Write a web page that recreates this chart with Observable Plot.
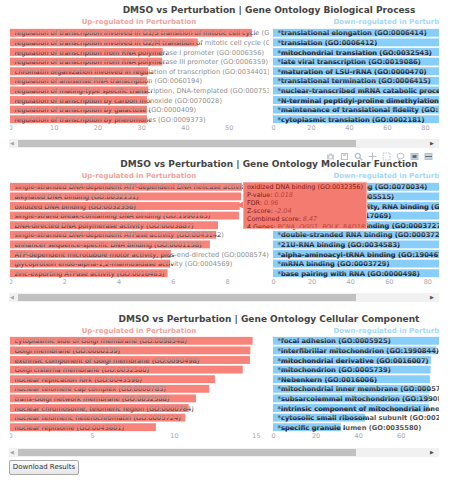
<!DOCTYPE html>
<html><head><meta charset="utf-8">
<script src="https://cdn.jsdelivr.net/npm/d3@7"></script>
<script src="https://cdn.jsdelivr.net/npm/@observablehq/plot@0.6"></script>
<style>
body{margin:0;background:#fff;font-family:"DejaVu Sans",Verdana,sans-serif;width:458px;height:483px;position:relative;overflow:hidden}
.viewport{position:absolute;left:10px;width:429px;overflow:hidden}
.content{position:relative;width:518px;height:140px}
.title{position:absolute;left:0;width:518px;text-align:center;font-weight:bold;font-size:9px;line-height:10px;color:#444;white-space:nowrap}
.sub{position:absolute;text-align:center;font-weight:bold;font-size:7px;line-height:8px;white-space:nowrap}
.track{position:absolute;left:9px;width:430px;height:9px;background:#f1f1f1}
.thumb{position:absolute;left:9px;width:338px;top:1px;height:7px;background:#c1c1c1}
.arrL{position:absolute;left:1px;top:0;font-size:5px;line-height:9px;color:#a3a3a3}
.arrR{position:absolute;left:421px;top:0;font-size:5px;line-height:9px;color:#505050}
.btn{position:absolute;left:9px;top:460px;width:68px;height:13px;border:1px solid #a9a9a9;border-radius:2px;background:linear-gradient(#fbfbfb,#e6e6e6);font-size:7px;line-height:13px;text-align:center;color:#333}
.tip{position:absolute;left:243px;top:182px;width:124px;height:47px;background:#f47b6f;border:1px solid #f9a79f;font-size:6.4px;line-height:8px;color:#7c1d16;padding:0 0 0 3px;box-sizing:border-box;white-space:nowrap;overflow:hidden}
.tip i{color:#b8453a}
.notch{position:absolute;left:237px;top:201px;width:0;height:0;border-top:4px solid transparent;border-bottom:4px solid transparent;border-right:7px solid #f47b6f}
.modebar{position:absolute;left:326px;top:152px;height:9px;display:flex;gap:5px}
</style></head>
<body>
<script>
// ---------- DATA ----------
const bpUpTerms = [
 "regulation of transcription involved in G1/S transition of mitotic cell cycle (GO:0000083)",
 "regulation of transcription involved in G2/M transition of mitotic cell cycle (GO:0000117)",
 "regulation of transcription from RNA polymerase I promoter (GO:0006356)",
 "regulation of transcription from RNA polymerase III promoter (GO:0006359)",
 "chromatin organization involved in regulation of transcription (GO:0034401)",
 "regulation of antisense RNA transcription (GO:0060194)",
 "regulation of mating-type specific transcription, DNA-templated (GO:0007532)",
 "regulation of transcription by carbon monoxide (GO:0070028)",
 "regulation of transcription by galactose (GO:0000409)",
 "regulation of transcription by pheromones (GO:0009373)"];
const bpUpScores = [55.3, 42.9, 34.9, 34.8, 31.6, 31.3, 31.6, 31.3, 31.3, 31.3];
const bpDownTerms = [
 "*translational elongation (GO:0006414)",
 "*translation (GO:0006412)",
 "*mitochondrial translation (GO:0032543)",
 "*late viral transcription (GO:0019086)",
 "*maturation of LSU-rRNA (GO:0000470)",
 "*translational termination (GO:0006415)",
 "*nuclear-transcribed mRNA catabolic process, nonsense-mediated decay (GO:0000184)",
 "*N-terminal peptidyl-proline dimethylation (GO:0018016)",
 "*maintenance of translational fidelity (GO:1990145)",
 "*cytoplasmic translation (GO:0002181)"];
const bpDownScores = [124, 118, 112, 108, 104, 101, 98, 95, 93, 91];

const mfUpTerms = [
 "single-stranded DNA-dependent ATP-dependent DNA helicase activity (GO:0017116)",
 "alkylated DNA binding (GO:0032131)",
 "oxidized DNA binding (GO:0032356)",
 "single-strand break-containing DNA binding (GO:1990165)",
 "DNA-directed DNA polymerase activity (GO:0003887)",
 "single-stranded DNA-dependent ATPase activity (GO:0043142)",
 "enhancer sequence-specific DNA binding (GO:0001158)",
 "ATP-dependent microtubule motor activity, plus-end-directed (GO:0008574)",
 "glycoprotein endo-alpha-1,2-mannosidase activity (GO:0004569)",
 "zinc-exporting ATPase activity (GO:0016463)"];
const mfUpScores = [8.55, 8.52, 8.47, 8.44, 7.67, 7.6, 7.37, 5.93, 5.9, 5.81];
const mfDownTerms = [
 "*telomerase RNA binding (GO:0070034)",
 "*protein binding (GO:0005515)",
 "*translation factor activity, RNA binding (GO:0008135)",
 "*snRNA binding (GO:0017069)",
 "*single-stranded RNA binding (GO:0003727)",
 "*double-stranded RNA binding (GO:0003725)",
 "*21U-RNA binding (GO:0034583)",
 "*alpha-aminoacyl-tRNA binding (GO:1904678)",
 "*mRNA binding (GO:0003729)",
 "*base pairing with RNA (GO:0000498)"];
const mfDownScores = [122, 115, 110, 104, 100, 97, 95, 93, 91, 89];

const ccUpTerms = [
 "cytoplasmic side of Golgi membrane (GO:0098548)",
 "Golgi membrane (GO:0000139)",
 "extrinsic component of Golgi membrane (GO:0090498)",
 "Golgi cisterna membrane (GO:0032580)",
 "nuclear replication fork (GO:0043596)",
 "nuclear telomere cap complex (GO:0000783)",
 "trans-Golgi network membrane (GO:0032588)",
 "nuclear chromosome, telomeric region (GO:0000784)",
 "nuclear telomeric heterochromatin (GO:0005724)",
 "nuclear replisome (GO:0043601)"];
const ccUpScores = [14.8, 14.66, 14.64, 14.2, 12.5, 12.15, 11.35, 10.9, 10.7, 8.9];
const ccDownTerms = [
 "*focal adhesion (GO:0005925)",
 "*interfibrillar mitochondrion (GO:1990844)",
 "*mitochondrial derivative (GO:0016007)",
 "*mitochondrion (GO:0005739)",
 "*Nebenkern (GO:0016006)",
 "*mitochondrial inner membrane (GO:0005743)",
 "*subsarcolemmal mitochondrion (GO:1990843)",
 "*intrinsic component of mitochondrial inner membrane (GO:0031304)",
 "*cytosolic small ribosomal subunit (GO:0022627)",
 "*specific granule lumen (GO:0035580)"];
const ccDownScores = [110, 76.7, 74.3, 74, 73.7, 73.5, 73.3, 73.2, 43.2, 31.9];

const panelTitles = [
 "DMSO vs Perturbation | Gene Ontology Biological Process",
 "DMSO vs Perturbation | Gene Ontology Molecular Function",
 "DMSO vs Perturbation | Gene Ontology Cellular Component"];
const upLabel = "Up-regulated in Perturbation";
const downLabel = "Down-regulated in Perturbation";
const bpUpTicks = [0, 10, 20, 30, 40, 50];
const mfUpTicks = [0, 2, 4, 6, 8];
const ccUpTicks = [0, 5, 10, 15];
const downTicks = [0, 20, 40, 60, 80, 100, 120];
const tipTitle = "oxidized DNA binding (GO:0032356)";
const tipFields = [["P-value:", "0.018"], ["FDR:", "0.96"], ["Z-score:", "-2.04"], ["Combined score:", "8.47"]];
const tipGenes = ["PCNA", "OGG1", "POLK", "RAD18"];

// ---------- LAYOUT ----------
const panels = [
 {top: 0, up: [bpUpTerms, bpUpScores, [0, 59.2], bpUpTicks], down: [bpDownTerms, bpDownScores, [0, 130], downTicks]},
 {top: 154, up: [mfUpTerms, mfUpScores, [0, 9.55], mfUpTicks], down: [mfDownTerms, mfDownScores, [0, 128], downTicks]},
 {top: 308.5, up: [ccUpTerms, ccUpScores, [0, 15.8], ccUpTicks], down: [ccDownTerms, ccDownScores, [0, 116], downTicks]}
];
const ns = "http://www.w3.org/2000/svg";
let clipId = 0;

function chart([terms, scores, domain, ticks], opt) {
  const data = terms.map((t, i) => ({term: t, score: scores[i]}));
  const fw = opt.bold ? "bold" : "normal";
  const svg = Plot.plot({
    width: opt.width, height: 108,
    marginLeft: opt.ml, marginRight: opt.mr, marginTop: 0, marginBottom: 12,
    style: {fontFamily: "DejaVu Sans, Verdana, sans-serif", fontSize: "6.5px", color: "#a8a8a8", background: "transparent"},
    x: {domain, ticks, tickSize: 0, tickPadding: 1, tickFormat: d => String(d), label: null, line: false},
    y: {domain: terms, axis: null, paddingInner: 0.18, paddingOuter: 0.09, round: false},
    marks: [
      Plot.barX(data, {x: "score", y: "term", fill: opt.bar}),
      Plot.text(data, {x: 0, y: "term", text: "term", textAnchor: "start", dx: 4, fill: opt.outC, fontWeight: fw, fontSize: 6.7}),
      Plot.text(data, {x: 0, y: "term", text: "term", textAnchor: "start", dx: 4, fill: opt.inC, fontWeight: fw, fontSize: 6.7})
    ]
  });
  // colour text differently where it sits on its bar
  const rects = svg.querySelectorAll('g[aria-label="bar"] rect');
  const tg = svg.querySelectorAll('g[aria-label="text"]');
  const inner = tg[tg.length - 1].querySelectorAll("text");
  const defs = document.createElementNS(ns, "defs");
  svg.insertBefore(defs, svg.firstChild);
  rects.forEach((r, i) => {
    const cp = document.createElementNS(ns, "clipPath");
    const id = "bc" + (clipId++);
    cp.setAttribute("id", id);
    cp.appendChild(r.cloneNode(false));
    defs.appendChild(cp);
    const t = inner[i];
    if (!t) return;
    const g = document.createElementNS(ns, "g");
    g.setAttribute("clip-path", `url(#${id})`);
    t.parentNode.insertBefore(g, t);
    g.appendChild(t);
  });
  svg.style.position = "absolute";
  svg.style.left = opt.left + "px";
  svg.style.top = opt.top + "px";
  svg.style.maxWidth = "none";
  svg.style.overflow = "hidden";
  return svg;
}

panels.forEach((p, k) => {
  const vp = document.createElement("div");
  vp.className = "viewport";
  vp.style.top = p.top + "px";
  vp.style.height = "138px";
  const content = document.createElement("div");
  content.className = "content";
  vp.appendChild(content);
  const title = document.createElement("div");
  title.className = "title"; title.style.top = "5px"; title.textContent = panelTitles[k];
  content.appendChild(title);
  const su = document.createElement("div");
  su.className = "sub"; su.style.left = "0px"; su.style.width = "258px"; su.style.top = "18px";
  su.style.color = "#f5a39b"; su.textContent = upLabel;
  content.appendChild(su);
  const sd = document.createElement("div");
  sd.className = "sub"; sd.style.left = "263px"; sd.style.width = "247px"; sd.style.top = "18px";
  sd.style.color = "#a3d9f5"; sd.textContent = downLabel;
  content.appendChild(sd);
  content.appendChild(chart(p.up, {width: 259, ml: 0, mr: 0, left: 0, top: 27.5, bar: "#f8837a", inC: "#7a3330", outC: "#8e8e8e", bold: false}));
  content.appendChild(chart(p.down, {width: 258, ml: 3, mr: 8, left: 260, top: 27.5, bar: "#87cefa", inC: "#1d3352", outC: "#555555", bold: true}));
  document.body.appendChild(vp);
  const tr = document.createElement("div");
  tr.className = "track"; tr.style.top = (p.top + 139) + "px";
  tr.innerHTML = '<div class="thumb"></div><div class="arrL">&#9664;</div><div class="arrR">&#9654;</div>';
  document.body.appendChild(tr);
});

// hover label on the Molecular Function chart
const notch = document.createElement("div"); notch.className = "notch"; document.body.appendChild(notch);
const tip = document.createElement("div"); tip.className = "tip";
tip.innerHTML = `<div>${tipTitle}</div>` +
  tipFields.map(([a, b]) => `<div>${a} <i>${b}</i></div>`).join("") +
  `<div>${tipGenes.length} Genes: <i>${tipGenes.join(", ")}</i></div>`;
document.body.appendChild(tip);

// plotly-like mode bar
const mb = document.createElement("div"); mb.className = "modebar";
const ic = c => `<svg width="9" height="9" viewBox="0 0 9 9" fill="none" stroke="#b9c2cc" stroke-width="1">${c}</svg>`;
mb.innerHTML = [
  ic('<rect x="1" y="2.5" width="7" height="5" fill="#c7cfd7" stroke="none"/><circle cx="4.5" cy="5" r="1.5" fill="#fff" stroke="none"/><rect x="3" y="1.5" width="3" height="1.5" fill="#c7cfd7" stroke="none"/>'),
  ic('<rect x="1.5" y="1.5" width="6" height="6"/><rect x="3" y="1.5" width="3" height="2.5" fill="#c7cfd7" stroke="none"/>'),
  ic('<circle cx="3.8" cy="3.8" r="2.5" stroke-width="1.3"/><line x1="5.6" y1="5.6" x2="8.3" y2="8.3" stroke-width="1.6"/>'),
  ic('<line x1="4.5" y1="0.5" x2="4.5" y2="8.5"/><line x1="0.5" y1="4.5" x2="8.5" y2="4.5"/>'),
  ic('<rect x="1" y="1" width="7" height="7" stroke-dasharray="1.5 1"/>'),
  ic('<ellipse cx="4.5" cy="4" rx="3.5" ry="2.8"/><line x1="3" y1="6.5" x2="2.5" y2="8.5"/>'),
  ic('<rect x="1" y="1.5" width="7" height="6" fill="#c7cfd7"/><rect x="2.5" y="3" width="4" height="3" fill="#5f6f80" stroke="none"/>'),
  ic('<rect x="1" y="1.5" width="7" height="6" fill="#c7cfd7"/><line x1="1" y1="4.5" x2="8" y2="4.5" stroke="#5f6f80"/>')
].join("");
document.body.appendChild(mb);

const btn = document.createElement("div"); btn.className = "btn"; btn.textContent = "Download Results";
document.body.appendChild(btn);
</script>
</body></html>
